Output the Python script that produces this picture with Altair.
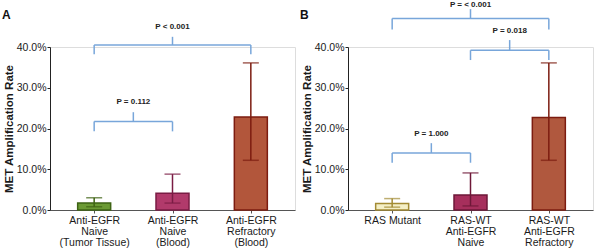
import altair as alt
import pandas as pd

# ---------------- data ----------------
a_labels = [["Anti-EGFR", "Naive", "(Tumor Tissue)"],
            ["Anti-EGFR", "Naive", "(Blood)"],
            ["Anti-EGFR", "Refractory", "(Blood)"]]
a_rate = [1.7, 4.1, 22.8]
a_low = [0.8, 1.7, 12.2]
a_high = [3.0, 8.8, 36.1]

b_labels = [["RAS Mutant"],
            ["RAS-WT", "Anti-EGFR", "Naive"],
            ["RAS-WT", "Anti-EGFR", "Refractory"]]
b_rate = [1.6, 3.7, 22.7]
b_low = [0.7, 1.0, 12.2]
b_high = [2.8, 9.1, 36.1]

# brackets: left group, right group, bar height, end height, tick top, label y, text
a_br_left = [0, 0]
a_br_right = [2, 1]
a_br_h = [40.5, 21.7]
a_br_end = [38.2, 19.3]
a_br_top = [42.5, 24.0]
a_br_label_y = [44.8, 26.5]
a_br_text = ["P < 0.001", "P = 0.112"]

b_br_left = [0, 1, 0]
b_br_right = [2, 2, 1]
b_br_h = [47.0, 39.2, 14.0]
b_br_end = [44.3, 36.8, 11.6]
b_br_top = [49.3, 41.7, 16.4]
b_br_label_y = [50.4, 43.9, 18.7]
b_br_text = ["P = < 0.001", "P = 0.018", "P = 1.000"]

panel_letter_y = 47.9

a_fill = ["#6b9a34", "#b13a6b", "#b2563b"]
a_stroke = ["#3e6314", "#7a1c44", "#7c1c10"]
b_fill = ["#f4efc6", "#a62f5c", "#b0583e"]
b_stroke = ["#a38b34", "#6e1838", "#7c1c10"]

BRACKET = "#78a6da"
FONT = "Liberation Sans"
W, H = 245, 163


def panel(letter, labels, rate, low, high, br_l, br_r, br_h, br_e, br_t, br_ly, br_txt,
          fills, strokes):
    idx = list(range(len(rate)))
    bars = pd.DataFrame({"g": idx, "rate": rate, "low": low, "high": high})

    segs = []
    for l, r, h, e, t in zip(br_l, br_r, br_h, br_e, br_t):
        m = (l + r) / 2
        segs.append({"x": l, "x2": r, "y": h, "y2": h})
        segs.append({"x": l, "x2": l, "y": e, "y2": h})
        segs.append({"x": r, "x2": r, "y": e, "y2": h})
        segs.append({"x": m, "x2": m, "y": h, "y2": t})
    segs = pd.DataFrame(segs)
    texts = pd.DataFrame({"x": [(l + r) / 2 for l, r in zip(br_l, br_r)],
                          "y": br_ly, "t": br_txt})
    let = pd.DataFrame({"x": [-0.5], "y": [panel_letter_y], "t": [letter]})

    lab_expr = "[" + ",".join(
        "[" + ",".join("'" + s + "'" for s in lab) + "]" for lab in labels
    ) + "][datum.value]"

    xs = alt.Scale(domain=[-0.5, len(rate) - 0.5], nice=False, zero=False)
    ys = alt.Scale(domain=[0, 40], nice=False)

    xax = alt.Axis(values=idx, labelExpr=lab_expr, title=None, grid=False,
                   labelFont=FONT, labelFontSize=10.5, labelColor="#1a1a1a",
                   labelLineHeight=11, labelPadding=2, tickSize=3,
                   labelFlush=False, labelOverlap=False,
                   domainColor="#555555", tickColor="#555555")
    yax = alt.Axis(values=[0, 10, 20, 30, 40],
                   labelExpr="format(datum.value, '.1f') + '%'",
                   title="MET Amplification Rate", titleFont=FONT,
                   titleFontSize=11.5, titleFontWeight="bold", titleColor="#1a1a1a",
                   titlePadding=2, grid=False, labelFont=FONT, labelFontSize=10.5,
                   labelColor="#1a1a1a", labelPadding=1, tickSize=3,
                   domainColor="#222222", tickColor="#222222")

    cat = alt.Scale(domain=idx, range=fills)
    cat_s = alt.Scale(domain=idx, range=strokes)

    bar = alt.Chart(bars).mark_bar(size=33, strokeWidth=1.5).encode(
        x=alt.X("g:Q", scale=xs, axis=xax),
        y=alt.Y("rate:Q", scale=ys, axis=yax),
        fill=alt.Fill("g:N", scale=cat, legend=None),
        stroke=alt.Stroke("g:N", scale=cat_s, legend=None),
    )
    err = alt.Chart(bars).mark_rule(strokeWidth=1.5).encode(
        x="g:Q", y="low:Q", y2="high:Q",
        stroke=alt.Stroke("g:N", scale=cat_s, legend=None),
    )
    cap_hi = alt.Chart(bars).mark_tick(orient="horizontal", size=16, thickness=1.5).encode(
        x="g:Q", y="high:Q",
        color=alt.Color("g:N", scale=cat_s, legend=None),
    )
    cap_lo = alt.Chart(bars).mark_tick(orient="horizontal", size=16, thickness=1.5).encode(
        x="g:Q", y="low:Q",
        color=alt.Color("g:N", scale=cat_s, legend=None),
    )
    br = alt.Chart(segs).mark_rule(color=BRACKET, strokeWidth=1.5).encode(
        x="x:Q", x2="x2:Q", y="y:Q", y2="y2:Q")
    txt = alt.Chart(texts).mark_text(font=FONT, fontSize=8, fontWeight="bold",
                                     color="#222222").encode(
        x="x:Q", y="y:Q", text="t:N")
    lt = alt.Chart(let).mark_text(font=FONT, fontSize=12, fontWeight="bold",
                                  color="#111111", align="left", dx=-53).encode(
        x="x:Q", y="y:Q", text="t:N")

    return alt.layer(bar, err, cap_hi, cap_lo, br, txt, lt).properties(
        width=W, height=H,
    ).resolve_scale(color="shared", stroke="shared")


pa = panel("A", a_labels, a_rate, a_low, a_high, a_br_left, a_br_right, a_br_h,
           a_br_end, a_br_top, a_br_label_y, a_br_text, a_fill, a_stroke)
pb = panel("B", b_labels, b_rate, b_low, b_high, b_br_left, b_br_right, b_br_h,
           b_br_end, b_br_top, b_br_label_y, b_br_text, b_fill, b_stroke)

chart = alt.hconcat(pa, pb, spacing=3).resolve_scale(
    x="independent", y="independent", fill="independent",
    stroke="independent", color="independent",
).properties(padding={"left": 1, "top": 0, "right": 0, "bottom": 0}).configure_view(
    stroke="transparent"
).configure(background="white")

chart.save("out.html", embed_options={"renderer": "svg", "actions": False})
